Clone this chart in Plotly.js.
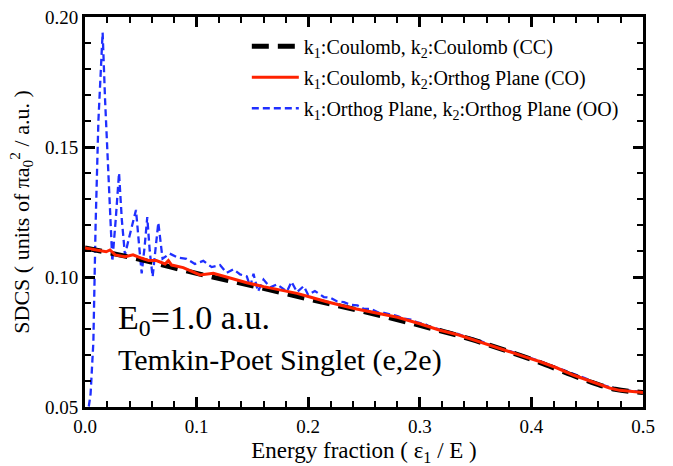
<!DOCTYPE html>
<html>
<head>
<meta charset="utf-8">
<script src="https://cdn.plot.ly/plotly-3.0.1.min.js"></script>
<style>
html,body{margin:0;padding:0;background:#fff;}
#chart text{font-family:"Liberation Serif","Times New Roman",serif !important;}
</style>
</head>
<body>
<div id="chart" style="width:673px;height:466px"></div>
<script>
// Coulomb-Coulomb (CC)
const ccX = [0, 0.05, 0.1, 0.15, 0.2, 0.25, 0.3, 0.35, 0.4, 0.45, 0.475, 0.5];
const ccY = [0.1112, 0.1067, 0.1014, 0.0966, 0.0916, 0.0867, 0.0814, 0.0755, 0.0683, 0.0601, 0.0568, 0.0556];

// Coulomb-Orthog Plane (CO)
const coX = [0, 0.01, 0.019, 0.0224, 0.027, 0.036, 0.043, 0.051, 0.057, 0.064, 0.0717, 0.0747, 0.0776, 0.088, 0.103, 0.115, 0.13, 0.145, 0.16, 0.175, 0.19, 0.2, 0.2166, 0.24, 0.26, 0.28, 0.3, 0.318, 0.335, 0.348, 0.363, 0.378, 0.393, 0.408, 0.423, 0.4375, 0.45, 0.4615, 0.47, 0.479, 0.488, 0.497, 0.5];
const coY = [0.1112, 0.1105, 0.1097, 0.1104, 0.1085, 0.1078, 0.1085, 0.1072, 0.1063, 0.1063, 0.1050, 0.1063, 0.1046, 0.1036, 0.1008, 0.1014, 0.0995, 0.0978, 0.0963, 0.0950, 0.0937, 0.0925, 0.0905, 0.0880, 0.0862, 0.0845, 0.0820, 0.0795, 0.0777, 0.0758, 0.0737, 0.0715, 0.0695, 0.0674, 0.0650, 0.0623, 0.0603, 0.0585, 0.0573, 0.0564, 0.0561, 0.0556, 0.0556];

// Orthog Plane-Orthog Plane (OO)
const ooX = [0.002, 0.005, 0.0075, 0.0095, 0.012, 0.0158, 0.018, 0.021, 0.0245, 0.0275, 0.0305, 0.033, 0.0358, 0.040, 0.0457, 0.0485, 0.0508, 0.0535, 0.0558, 0.058, 0.0606, 0.063, 0.0657, 0.0695, 0.076, 0.083, 0.091, 0.0985, 0.106, 0.1135, 0.121, 0.127, 0.133, 0.139, 0.145, 0.148, 0.151, 0.155, 0.16, 0.166, 0.172, 0.181, 0.185, 0.19, 0.196, 0.2, 0.206, 0.214, 0.220, 0.226, 0.232, 0.238, 0.244, 0.250, 0.256, 0.262, 0.268, 0.274, 0.280, 0.286, 0.292, 0.298, 0.304, 0.310, 0.318, 0.326, 0.334, 0.342, 0.350, 0.360, 0.370, 0.380, 0.390, 0.400, 0.410, 0.420, 0.430, 0.440, 0.450, 0.460, 0.470, 0.480, 0.490, 0.500];
const ooY = [0.046, 0.055, 0.075, 0.120, 0.160, 0.194, 0.168, 0.142, 0.106, 0.122, 0.140, 0.122, 0.1085, 0.116, 0.1258, 0.112, 0.1014, 0.112, 0.123, 0.110, 0.1001, 0.110, 0.1209, 0.107, 0.1090, 0.1075, 0.1070, 0.1050, 0.1062, 0.1038, 0.1046, 0.1016, 0.1030, 0.1010, 0.1002, 0.0963, 0.1012, 0.0944, 0.0990, 0.0960, 0.0972, 0.0944, 0.0982, 0.0942, 0.0965, 0.0931, 0.0946, 0.0923, 0.0920, 0.0906, 0.0903, 0.0893, 0.0891, 0.0877, 0.0878, 0.0865, 0.0862, 0.0856, 0.0850, 0.0840, 0.0836, 0.0825, 0.0820, 0.0807, 0.0799, 0.0789, 0.0781, 0.0769, 0.0761, 0.0744, 0.0730, 0.0716, 0.0702, 0.0686, 0.0673, 0.0656, 0.0641, 0.0624, 0.0607, 0.0590, 0.0577, 0.0567, 0.0562, 0.0558];

const names = [
  'k<sub>1</sub>:Coulomb, k<sub>2</sub>:Coulomb (CC)',
  'k<sub>1</sub>:Coulomb, k<sub>2</sub>:Orthog Plane (CO)',
  'k<sub>1</sub>:Orthog Plane, k<sub>2</sub>:Orthog Plane (OO)'
];
const xTickVals = [0, 0.1, 0.2, 0.3, 0.4, 0.5];
const xTickText = ['0.0', '0.1', '0.2', '0.3', '0.4', '0.5'];
const yTickVals = [0.05, 0.10, 0.15, 0.20];
const yTickText = ['0.05', '0.10', '0.15', '0.20'];

const FONT = 'Liberation Serif';

const traces = [
  {x: ooX, y: ooY, name: names[2], mode: 'lines', legendrank: 3, legendgroup: 'c',
   line: {color: '#1f2fff', width: 2.3, dash: '7px,4px'}},
  {x: ccX, y: ccY, name: names[0], mode: 'lines', legendrank: 1, legendgroup: 'a',
   line: {color: '#000000', width: 5, dash: '17px,9px', shape: 'spline'}},
  {x: coX, y: coY, name: names[1], mode: 'lines', legendrank: 2, legendgroup: 'b',
   line: {color: '#ff2200', width: 3}}
];

const axisCommon = {
  showline: true, linewidth: 3, linecolor: '#000', mirror: 'allticks',
  ticks: 'inside', ticklen: 10, tickwidth: 2.5, tickcolor: '#000',
  showgrid: false, zeroline: false,
  tickfont: {family: FONT, size: 19, color: '#000'}
};

const layout = {
  width: 673, height: 466,
  margin: {l: 85, r: 30, t: 17, b: 59},
  paper_bgcolor: '#fff', plot_bgcolor: '#fff',
  font: {family: FONT, size: 18, color: '#000'},
  showlegend: true,
  legend: {
    x: 0.29, y: 0.975, xanchor: 'left', yanchor: 'top',
    bgcolor: 'rgba(0,0,0,0)', borderwidth: 0,
    font: {family: FONT, size: 20, color: '#000'},
    traceorder: 'grouped', tracegroupgap: 2, itemwidth: 47
  },
  xaxis: Object.assign({}, axisCommon, {
    range: [0, 0.5], tickvals: xTickVals, ticktext: xTickText,
    minor: {dtick: 0.02, ticks: 'inside', ticklen: 6, tickwidth: 2, tickcolor: '#000'},
    title: {text: 'Energy fraction ( ε<sub>1</sub> / E )', font: {family: FONT, size: 23, color: '#000'}, standoff: 8}
  }),
  yaxis: Object.assign({}, axisCommon, {
    range: [0.05, 0.20], tickvals: yTickVals, ticktext: yTickText,
    minor: {dtick: 0.01, ticks: 'inside', ticklen: 6, tickwidth: 2, tickcolor: '#000'},
    title: {text: 'SDCS ( units of πa<sub>0</sub><sup>2</sup> / a.u. )', font: {family: FONT, size: 22, color: '#000'}, standoff: 10}
  }),
  annotations: [
    {xref: 'paper', yref: 'paper', x: 0.055, y: 0.222, xanchor: 'left', yanchor: 'middle',
     text: 'E<sub>0</sub>=1.0 a.u.', showarrow: false, font: {family: FONT, size: 34, color: '#000'}},
    {xref: 'paper', yref: 'paper', x: 0.055, y: 0.12, xanchor: 'left', yanchor: 'middle',
     text: 'Temkin-Poet Singlet (e,2e)', showarrow: false, font: {family: FONT, size: 30, color: '#000'}}
  ]
};

Plotly.newPlot('chart', traces, layout, {displayModeBar: false});
</script>
</body>
</html>
